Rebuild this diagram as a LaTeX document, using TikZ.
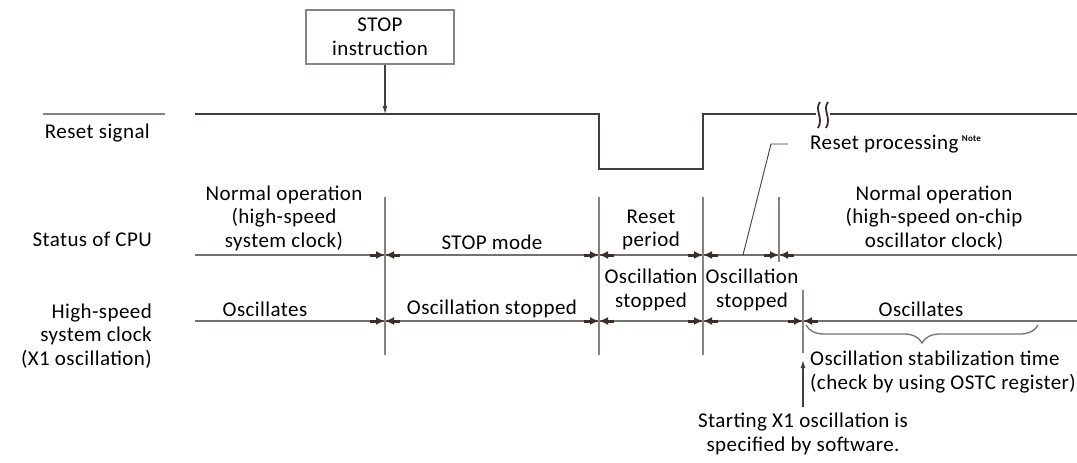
\documentclass[tikz,border=0pt]{standalone}
\usepackage{fontspec}
\setmainfont[LetterSpace=2]{Carlito}
\usetikzlibrary{arrows.meta,decorations.pathreplacing}
\definecolor{sigc}{HTML}{463E3B}
\definecolor{rowc}{HTML}{777070}
\definecolor{vc}{HTML}{8A8282}
\definecolor{mkc}{HTML}{3A2E2B}
\begin{document}
\begin{tikzpicture}[x=1pt,y=-1pt,
  lbl/.style={font=\fontsize{21}{23.5}\selectfont, align=center, inner sep=0pt},
  rlbl/.style={lbl, align=right, anchor=east},
  sig/.style={line width=2.2pt, draw=sigc},
  rowline/.style={line width=1.4pt, draw=rowc},
  vline/.style={line width=1.4pt, draw=vc},
  mk/.style={line width=3pt, draw=mkc, -{Latex[length=9pt,width=8pt]}},
]
\useasboundingbox (0,0) rectangle (1077,463);

% row labels
\node[rlbl] (lreset) at (150,133) {Reset signal};
\draw[line width=1.2pt, draw=vc] (43,114) -- (165,114);
\node[rlbl] (lcpu) at (152,239) {Status of CPU};
\node[rlbl] (lclk) at (152,336) {High-speed\\system clock\\(X1 oscillation)};

% STOP instruction box
\node[lbl, draw=vc, line width=1.4pt, minimum width=148pt, minimum height=54pt] (stop) at (380,37) {STOP\\instruction};
\coordinate (stoparr) at (385,114);
\draw[line width=1.2pt, draw=sigc, -{Latex[length=8pt,width=5pt]}] (stop.south -| stoparr) -- (stoparr);

% reset signal
\coordinate (r0) at (195,114);
\coordinate (r1) at (599,114);
\coordinate (r2) at (599,169);
\coordinate (r3) at (703,169);
\coordinate (r4) at (703,114);
\coordinate (r5) at (1077,114);
\draw[sig] (r0) -- (r1) -- (r2) -- (r3) -- (r4) -- (r5);
% break mark
\fill[white] (816,105) rectangle (830,125);
\draw[line width=1.8pt, draw=mkc] (820,102) .. controls (814,110) and (824,118) .. (818,128);
\draw[line width=1.8pt, draw=mkc] (828,102) .. controls (822,110) and (832,118) .. (826,128);

% rows
\coordinate (c0) at (195,255);
\coordinate (c1) at (1077,255);
\coordinate (k0) at (195,321);
\coordinate (k1) at (1077,321);
\draw[rowline] (c0) -- (c1);
\draw[rowline] (k0) -- (k1);

% vertical markers
\foreach \x in {385,599,703} {
  \draw[vline] (\x,197) -- (\x,355);
}
\draw[vline] (779,197) -- (779,262);
\draw[vline] (803,290) -- (803,353);

\foreach \x in {385,599,703,779} {
  \draw[mk] (\x-15,255) -- (\x,255);
  \draw[mk] (\x+15,255) -- (\x,255);
}
\foreach \x in {385,599,703,803} {
  \draw[mk] (\x-15,321) -- (\x,321);
  \draw[mk] (\x+15,321) -- (\x,321);
}

% CPU status labels
\node[lbl] (cpu1) at (284,218) {Normal operation\\(high-speed\\system clock)};
\node[lbl] (cpu2) at (492,242) {STOP mode};
\node[lbl] (cpu3) at (651,230) {Reset\\period};
\node[lbl] (cpu4) at (934,218) {Normal operation\\(high-speed on-chip\\oscillator clock)};

% clock labels
\node[lbl] (clk1) at (265,309) {Oscillates};
\node[lbl] (clk2) at (492,309) {Oscillation stopped};
\node[lbl] (clk3) at (651,290) {Oscillation\\stopped};
\node[lbl] (clk4) at (752,290) {Oscillation\\stopped};
\node[lbl] (clk5) at (921,309) {Oscillates};

% reset processing note
\node[lbl, anchor=west] (rp) at (810,144) {Reset processing\,\textsuperscript{\fontsize{9}{9}\selectfont\bfseries Note}};
\coordinate (lp0) at (788,144);
\coordinate (lp1) at (771,144);
\coordinate (lp2) at (743,255);
\draw[line width=0.9pt, draw=sigc] (lp0) -- (lp1) -- (lp2);

% brace
\coordinate (b0) at (806,325);
\coordinate (b1) at (1038,325);
\draw[line width=1.3pt, draw=rowc, decorate, decoration={brace, mirror, amplitude=18pt}] (b0) -- (b1);
\node[lbl, anchor=west, align=left] (stab) at (810,372) {Oscillation stabilization time\\(check by using OSTC register)};

% start arrow
\coordinate (sa0) at (803,407);
\coordinate (sa1) at (803,360);
\draw[line width=1.2pt, draw=sigc, -{Latex[length=8pt,width=5pt]}] (sa0) -- (sa1);
\node[lbl] (start) at (803,434) {Starting X1 oscillation is\\specified by software.};
\end{tikzpicture}
\end{document}
